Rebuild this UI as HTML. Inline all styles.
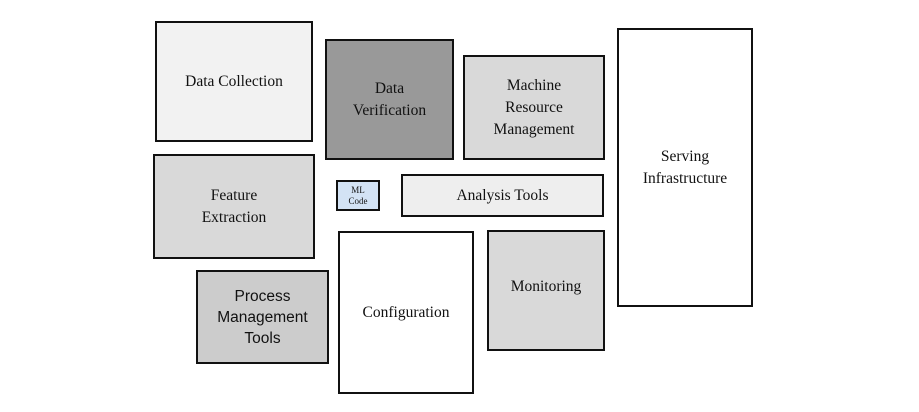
<!DOCTYPE html>
<html><head><meta charset="utf-8"><style>
body{margin:0;width:919px;height:412px;background:#fff;position:relative;overflow:hidden}
.b{position:absolute;box-sizing:border-box;border:2px solid #111;display:flex;align-items:center;justify-content:center;text-align:center;font-family:"Liberation Serif",serif;font-size:15.5px;line-height:22px;color:#111}
</style></head><body>
<div class="b" style="left:155px;top:21px;width:158px;height:121px;background:#f2f2f2;">Data Collection</div>
<div class="b" style="left:325px;top:39px;width:129px;height:121px;background:#999;">Data<br>Verification</div>
<div class="b" style="left:463px;top:55px;width:142px;height:105px;background:#d9d9d9;">Machine<br>Resource<br>Management</div>
<div class="b" style="left:617px;top:28px;width:136px;height:279px;background:#fff;">Serving<br>Infrastructure</div>
<div class="b" style="left:153px;top:154px;width:162px;height:105px;background:#d9d9d9;">Feature<br>Extraction</div>
<div class="b" style="left:336px;top:180px;width:44px;height:31px;background:#d3e3f5;font-size:9px;line-height:11px;">ML<br>Code</div>
<div class="b" style="left:401px;top:174px;width:203px;height:43px;background:#eee;">Analysis Tools</div>
<div class="b" style="left:196px;top:270px;width:133px;height:94px;background:#ccc;font-family:'Liberation Sans',sans-serif;font-size:15.5px;line-height:21px;">Process<br>Management<br>Tools</div>
<div class="b" style="left:338px;top:231px;width:136px;height:163px;background:#fff;">Configuration</div>
<div class="b" style="left:487px;top:230px;width:118px;height:121px;background:#d9d9d9;padding-bottom:7px;">Monitoring</div>
</body></html>
